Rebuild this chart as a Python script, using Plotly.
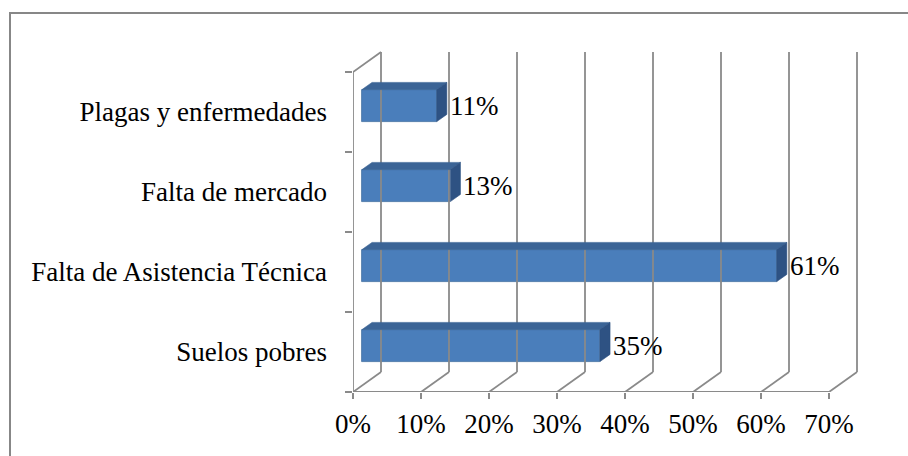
import plotly.graph_objects as go

# Survey results: main problems reported (share of respondents)
categories = [
    "Suelos pobres",
    "Falta de Asistencia Técnica",
    "Falta de mercado",
    "Plagas y enfermedades",
]
values = [35, 61, 13, 11]
x_ticks = [0, 10, 20, 30, 40, 50, 60, 70]
x_tick_labels = ["0%", "10%", "20%", "30%", "40%", "50%", "60%", "70%"]

# Page and plot-area geometry (pixels)
W, H = 908, 456
M_L, M_R, M_T, M_B = 353, 38, 40, 64
PX_PER_PCT = 6.8
PX_PER_CAT = 80.0
plot_w = W - M_L - M_R
plot_h = H - M_T - M_B
x_max = plot_w / PX_PER_PCT
y_lo = -0.5
y_hi = y_lo + plot_h / PX_PER_CAT

# Oblique depth of the 3-D box (full depth), in data units
DX = 28 / PX_PER_PCT
DY = 20 / PX_PER_CAT
BAR_FRONT = 0.32   # depth fraction of the bar's front face
BAR_BACK = 0.68    # depth fraction of the bar's back face
BAR_HALF = 0.2     # half thickness of a bar, in category units

GRID = "#8a8a8a"
FRONT = "#4A7EBB"
TOP = "#3B6496"
SIDE = "#2E5283"
FONT = "Liberation Serif, Times New Roman, serif"
FONT_SIZE = 27

n = len(categories)
floor_y = -0.5
ceil_y = n - 0.5

fig = go.Figure()

# Walls, floor edges and gridlines of the 3-D frame
gx, gy = [], []
for t in x_ticks:
    gx += [t + DX, t + DX, None, t, t + DX, None]
    gy += [floor_y + DY, ceil_y + DY, None, floor_y, floor_y + DY, None]
gx += [0, 0, None, 0, DX, None, x_ticks[0], x_ticks[-1], None]
gy += [floor_y, ceil_y, None, ceil_y, ceil_y + DY, None, floor_y, floor_y, None]
fig.add_trace(go.Scatter(x=gx, y=gy, mode="lines",
                         line=dict(color=GRID, width=1.8),
                         hoverinfo="skip", showlegend=False))

# Front faces of the bars
fx = BAR_FRONT * DX
fy = BAR_FRONT * DY
bx = (BAR_BACK - BAR_FRONT) * DX
by = (BAR_BACK - BAR_FRONT) * DY
fig.add_trace(go.Bar(
    y=[i + fy for i in range(n)], x=values, base=[fx] * n,
    orientation="h", width=2 * BAR_HALF,
    marker=dict(color=FRONT, line=dict(color="#41709F", width=0.8)),
    hoverinfo="skip", showlegend=False,
))

# Top and side faces of each bar
for i, v in enumerate(values):
    yb = i + fy - BAR_HALF
    yt = i + fy + BAR_HALF
    x0 = fx
    x1 = fx + v
    fig.add_trace(go.Scatter(
        x=[x0, x1, x1 + bx, x0 + bx, x0], y=[yt, yt, yt + by, yt + by, yt],
        mode="lines", fill="toself", fillcolor=TOP,
        line=dict(color=TOP, width=0.6), hoverinfo="skip", showlegend=False))
    fig.add_trace(go.Scatter(
        x=[x1, x1 + bx, x1 + bx, x1, x1], y=[yb, yb + by, yt + by, yt, yb],
        mode="lines", fill="toself", fillcolor=SIDE,
        line=dict(color=SIDE, width=0.6), hoverinfo="skip", showlegend=False))
    # Value label
    fig.add_annotation(x=x1, y=i + fy, text=f"{v}%", showarrow=False,
                       xanchor="left", yanchor="middle", xshift=11,
                       font=dict(family=FONT, size=FONT_SIZE, color="#000000"))

# Outer chart border (runs past the right and bottom page edges)
def px_to_paper_x(px):
    return (px - M_L) / plot_w

def px_to_paper_y(py):
    return (H - M_B - py) / plot_h

fig.add_shape(type="rect", xref="paper", yref="paper",
              x0=px_to_paper_x(10), x1=px_to_paper_x(930),
              y0=px_to_paper_y(480), y1=px_to_paper_y(13),
              line=dict(color="#878787", width=2), fillcolor="rgba(0,0,0,0)",
              layer="above")

fig.update_layout(
    width=W, height=H,
    margin=dict(l=M_L, r=M_R, t=M_T, b=M_B, pad=0, autoexpand=False),
    paper_bgcolor="white", plot_bgcolor="white",
    font=dict(family=FONT, size=FONT_SIZE, color="#000000"),
    hovermode=False, showlegend=False, bargap=0,
    xaxis=dict(
        range=[0, x_max], tickvals=x_ticks, ticktext=x_tick_labels,
        ticks="outside", ticklen=6, tickwidth=1.8, tickcolor=GRID,
        showgrid=False, zeroline=False, showline=False, fixedrange=True,
        ticklabelstandoff=2, automargin=False,
    ),
    yaxis=dict(
        range=[y_lo, y_hi], tickvals=list(range(n)), ticktext=categories,
        ticks="", showgrid=False, zeroline=False, showline=False,
        fixedrange=True, ticklabelstandoff=25, automargin=False,
        minor=dict(tick0=-0.5, dtick=1, ticks="outside", ticklen=7,
                   tickwidth=1.8, tickcolor=GRID, showgrid=False),
    ),
)

fig.write_html("out.html", config={"displayModeBar": False})
